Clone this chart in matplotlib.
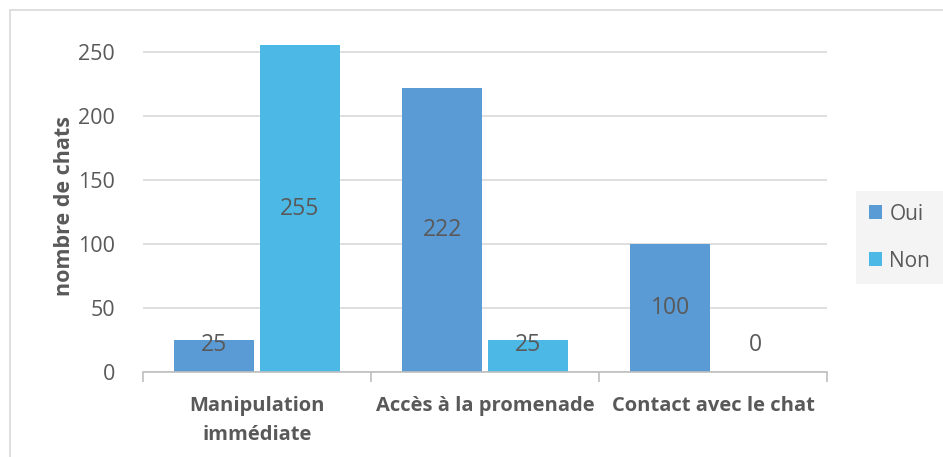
import matplotlib.pyplot as plt
from matplotlib.patches import Rectangle
import numpy as np

categories = ["Manipulation\nimmédiate", "Accès à la promenade", "Contact avec le chat"]
oui = [25, 222, 100]
non = [255, 25, 0]
series_names = ["Oui", "Non"]
yticks = [0, 50, 100, 150, 200, 250]

col_oui = "#5B9BD5"
col_non = "#4BB8E5"
txt = "#595959"

plt.rcParams['font.family'] = ['Open Sans', 'DejaVu Sans']

W, H = 943, 457
fig = plt.figure(figsize=(W / 100, H / 100), dpi=100)

# light border around chart area
fig.patches.append(Rectangle((10 / W, -0.1), 1.2, 1 - 10 / H + 0.1,
                             transform=fig.transFigure, fill=False,
                             edgecolor="#D9D9D9", linewidth=1.2))

ax = fig.add_axes([143 / W, 85 / H, (827 - 143) / W, (372 - 39) / H])
x = np.arange(len(categories))
w = 0.35
off = 0.187
b1 = ax.bar(x - off, oui, w, color=col_oui, label=series_names[0], zorder=2)
b2 = ax.bar(x + off, non, w, color=col_non, label=series_names[1], zorder=2)

# data labels, centered in bars (kept off the axis for small values)
for bars, vals in ((b1, oui), (b2, non)):
    for r, v in zip(bars, vals):
        ax.text(r.get_x() + r.get_width() / 2, max(v / 2, 21), str(v),
                ha="center", va="center", fontsize=16.5, color=txt, zorder=3)

ax.set_xlim(-0.5, 2.5)
ax.set_ylim(0, 260)
ax.set_yticks(yticks)
ax.yaxis.grid(True, color="#D9D9D9", linewidth=1.2, zorder=0)
ax.set_axisbelow(True)
for s in ("left", "right", "top"):
    ax.spines[s].set_visible(False)
ax.spines["bottom"].set_color("#BFBFBF")
ax.spines["bottom"].set_linewidth(1.2)
ax.tick_params(axis="y", length=0, labelsize=15.5, labelcolor=txt, pad=20)

ax.set_xticks([-0.5, 0.5, 1.5, 2.5])
ax.set_xticklabels([])
ax.tick_params(axis="x", which="major", length=7, color="#BFBFBF", width=1.2)
ax.set_xticks(x, minor=True)
ax.set_xticklabels(categories, minor=True, fontsize=14.5, fontweight="bold",
                   color=txt, linespacing=1.6)
ax.tick_params(axis="x", which="minor", length=0, pad=17)

ax.set_ylabel("nombre de chats", fontsize=15.5, fontweight="bold", color=txt,
              labelpad=2)

leg = fig.legend(loc="upper left", bbox_to_anchor=(856 / W, 1 - 191 / H),
                 frameon=True, fancybox=False, fontsize=15,
                 handlelength=0.65, handleheight=0.65, handletextpad=0.35,
                 labelspacing=1.25, borderpad=0.6, borderaxespad=0)
leg.get_frame().set_facecolor("#F2F2F2")
leg.get_frame().set_edgecolor("none")
for t in leg.get_texts():
    t.set_color(txt)

fig.savefig("out.png", dpi=100)
